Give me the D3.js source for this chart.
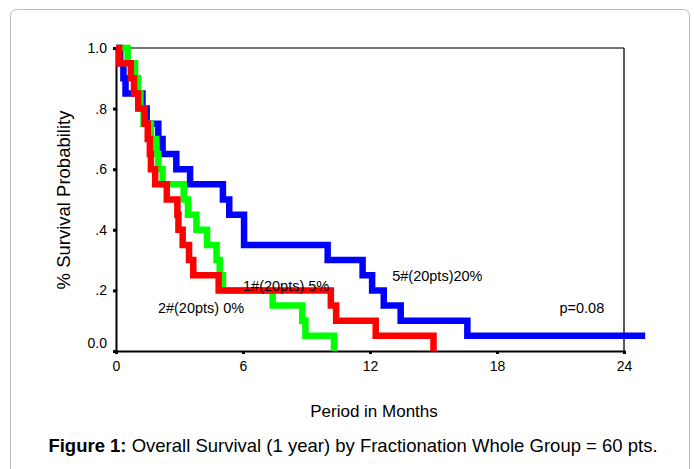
<!DOCTYPE html>
<html>
<head>
<meta charset="utf-8">
<script src="https://cdn.jsdelivr.net/npm/d3@7"></script>
<style>
  html, body { margin: 0; padding: 0; background: #fff; }
  svg { display: block; font-family: "Liberation Sans", Arial, sans-serif; }
</style>
</head>
<body>
<svg id="chart" width="694" height="469"></svg>
<script>
// ---- data ----
const xTicks = [0, 6, 12, 18, 24];
const yTicks = [0, 0.2, 0.4, 0.6, 0.8, 1.0];
const yTickLabels = ["0.0", ".2", ".4", ".6", ".8", "1.0"];

const blueTimes = [0, 0.2, 0.35, 0.45, 1.25, 1.45, 2.0, 2.2, 2.85, 3.5, 5.05, 5.35, 6.05, 10.0, 11.65, 12.1, 12.65, 13.45, 16.6, 25.0];
const blueSurv  = [1, 0.95, 0.9, 0.85, 0.8, 0.75, 0.7, 0.65, 0.6, 0.55, 0.5, 0.45, 0.35, 0.3, 0.25, 0.2, 0.15, 0.1, 0.05, 0.05];

const greenTimes = [0, 0.55, 0.9, 1.05, 1.15, 1.3, 1.65, 1.9, 2.0, 2.2, 3.2, 3.4, 3.8, 4.3, 4.75, 4.9, 5.05, 7.4, 8.8, 8.95, 10.3];
const greenSurv  = [1, 0.95, 0.9, 0.85, 0.8, 0.75, 0.7, 0.65, 0.6, 0.55, 0.5, 0.45, 0.4, 0.35, 0.3, 0.25, 0.2, 0.15, 0.1, 0.05, 0];

const redTimes = [0, 0.15, 0.7, 0.85, 1.05, 1.35, 1.5, 1.6, 1.65, 1.85, 2.4, 2.9, 2.95, 3.15, 3.45, 3.65, 4.85, 10.15, 10.4, 12.27, 15.0];
const redSurv  = [1, 0.95, 0.9, 0.85, 0.8, 0.75, 0.7, 0.65, 0.6, 0.55, 0.5, 0.45, 0.4, 0.35, 0.3, 0.25, 0.2, 0.15, 0.1, 0.05, 0];

const seriesNames = ["5#", "2#", "1#"];
const annotations = [
  { text: "5#(20pts)20%", t: 13.05, s: 0.23 },
  { text: "1#(20pts) 5%", t: 6.0, s: 0.198 },
  { text: "2#(20pts) 0%", t: 1.98, s: 0.125 },
  { text: "p=0.08", t: 20.95, s: 0.125 }
];

// ---- drawing ----
const svg = d3.select("#chart");

// outer rounded frame
svg.append("rect")
  .attr("x", 10.5).attr("y", 9.5)
  .attr("width", 679).attr("height", 480)
  .attr("rx", 6).attr("ry", 6)
  .attr("fill", "none").attr("stroke", "#bdbdbd").attr("stroke-width", 1);

const x = d3.scaleLinear().domain([0, 24]).range([116, 624]);
const y = d3.scaleLinear().domain([0, 1]).range([351, 48]);

// box top & right
svg.append("line").attr("x1", x(0)).attr("x2", x(24)).attr("y1", y(1)).attr("y2", y(1))
  .attr("stroke", "#444").attr("stroke-width", 1.5);
svg.append("line").attr("x1", x(24)).attr("x2", x(24)).attr("y1", y(1)).attr("y2", y(0))
  .attr("stroke", "#222").attr("stroke-width", 1.5);

// axes
const xAxis = d3.axisBottom(x).tickValues(xTicks).tickSize(3).tickPadding(7);
const gx = svg.append("g").attr("transform", `translate(0,${y(0)})`).call(xAxis);
gx.select(".domain").attr("stroke", "#000").attr("stroke-width", 2);
gx.selectAll(".tick line").attr("stroke", "#000").attr("stroke-width", 3);
gx.selectAll("text").attr("font-size", 14).attr("fill", "#000")
  .attr("font-family", "Liberation Sans, Arial, sans-serif");

const yAxis = d3.axisLeft(y).tickValues(yTicks)
  .tickFormat((d, i) => yTickLabels[i]).tickSize(3).tickPadding(6);
const gy = svg.append("g").attr("transform", `translate(${x(0)},0)`).call(yAxis);
gy.select(".domain").attr("stroke", "#000").attr("stroke-width", 2);
gy.selectAll(".tick line").attr("stroke", "#000").attr("stroke-width", 3);
gy.selectAll("text").attr("font-size", 14).attr("fill", "#000")
  .attr("font-family", "Liberation Sans, Arial, sans-serif");
gy.selectAll(".tick").filter(d => d === 0).select("text").attr("dy", "-0.25em");

// survival curves
const line = d3.line().x(d => x(d[0])).y(d => y(d[1])).curve(d3.curveStepAfter);
const series = [
  { name: seriesNames[0], times: blueTimes, surv: blueSurv, color: "#0000ff" },
  { name: seriesNames[1], times: greenTimes, surv: greenSurv, color: "#00ff00" },
  { name: seriesNames[2], times: redTimes, surv: redSurv, color: "#ff0000" }
];
series.forEach(s => {
  const pts = s.times.map((t, i) => [t, s.surv[i]]);
  svg.append("path").datum(pts)
    .attr("d", line)
    .attr("fill", "none")
    .attr("stroke", s.color)
    .attr("stroke-width", 6.5)
    .attr("stroke-linejoin", "miter")
    .attr("stroke-linecap", "butt");
});

// annotations
annotations.forEach(a => {
  svg.append("text").attr("x", x(a.t)).attr("y", y(a.s))
    .attr("font-size", 14.5).attr("fill", "#000").text(a.text);
});

// axis titles
svg.append("text")
  .attr("transform", `translate(70,200) rotate(-90)`)
  .attr("text-anchor", "middle").attr("font-size", 18.5).attr("fill", "#000")
  .text("% Survival Probability");

svg.append("text").attr("x", 374).attr("y", 417)
  .attr("text-anchor", "middle").attr("font-size", 17).attr("fill", "#000")
  .text("Period in Months");

const cap = svg.append("text").attr("x", 353).attr("y", 452)
  .attr("text-anchor", "middle").attr("font-size", 18.5).attr("fill", "#000");
cap.append("tspan").attr("font-weight", "bold").text("Figure 1:");
cap.append("tspan").text(" Overall Survival (1 year) by Fractionation Whole Group = 60 pts.");
</script>
</body>
</html>
